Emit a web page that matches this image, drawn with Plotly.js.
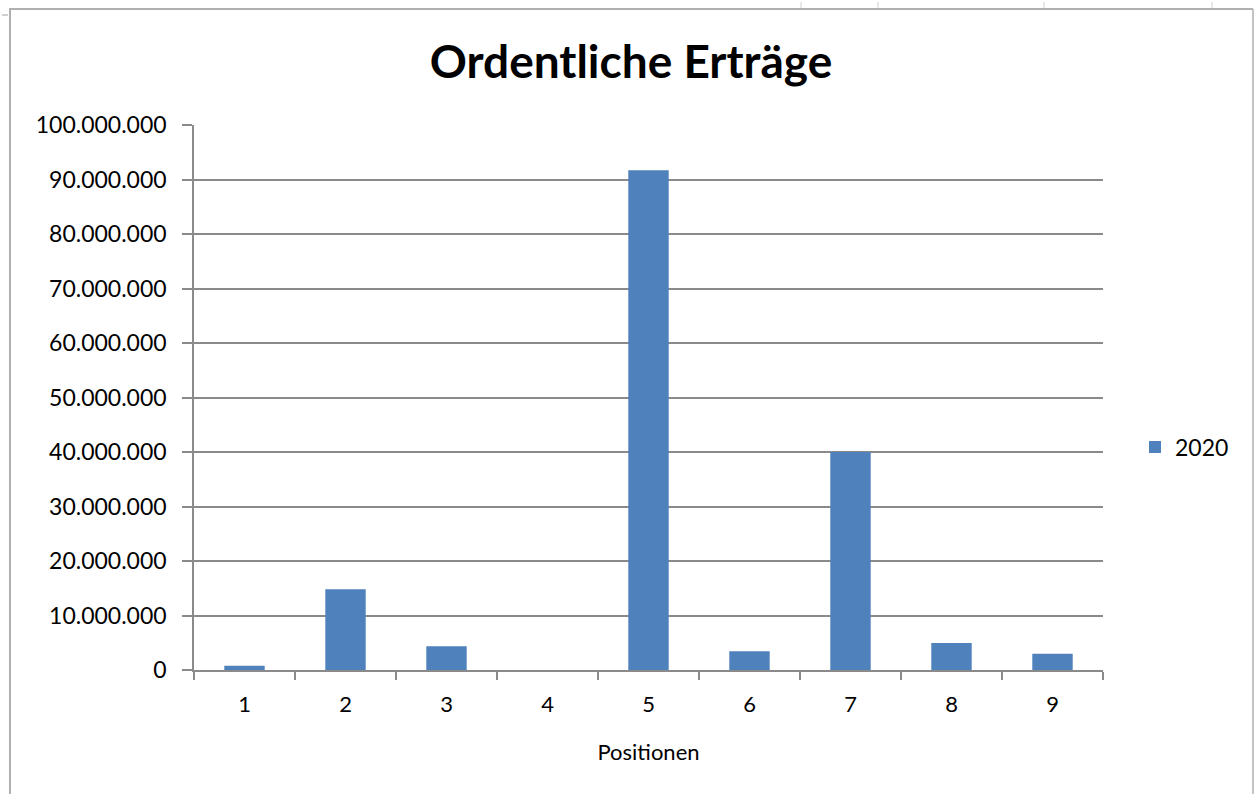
<!DOCTYPE html>
<html>
<head>
<meta charset="utf-8">
<script src="https://cdn.plot.ly/plotly-3.0.1.min.js"></script>
<style>
  html, body { margin: 0; padding: 0; background: #fff; }
  #chart { width: 1255px; height: 794px; }
</style>
</head>
<body>
<div id="chart"></div>
<script>
const positions = ["1", "2", "3", "4", "5", "6", "7", "8", "9"];
const values2020 = [800000, 14800000, 4350000, 0, 91700000, 3430000, 40000000, 4950000, 3000000];
const seriesName = "2020";
const yTicks = [0, 10000000, 20000000, 30000000, 40000000, 50000000, 60000000, 70000000, 80000000, 90000000, 100000000];

const W = 1255, H = 794;
const L = 194, R = 1103, T = 125, B = 670;
const pw = R - L, ph = B - T;
const px = x => (x - L) / pw;
const py = y => (B - y) / ph;

const fontFam = "Lato, 'Open Sans', sans-serif";
const grey = "#8a8a8a";

const trace = {
  type: "bar",
  x: positions,
  y: values2020,
  name: seriesName,
  marker: { color: "#4f81bd", line: { width: 0 } },
  hoverinfo: "x+y"
};

const shapes = [
  { type: "line", xref: "paper", yref: "paper", x0: px(9), x1: px(1253), y0: py(9), y1: py(9), line: { color: "#b0b0b0", width: 2 } },
  { type: "line", xref: "paper", yref: "paper", x0: px(10), x1: px(10), y0: py(9), y1: py(800), line: { color: "#b0b0b0", width: 2 } },
  { type: "line", xref: "paper", yref: "paper", x0: px(1253), x1: px(1253), y0: py(9), y1: py(800), line: { color: "#b0b0b0", width: 1.5 } }
];
[801, 878, 1044, 1212].forEach(x => shapes.push({ type: "line", xref: "paper", yref: "paper", x0: px(x), x1: px(x), y0: py(2), y1: py(8), line: { color: "#d0d0d0", width: 1 } }));
shapes.push({ type: "line", xref: "paper", yref: "paper", x0: px(2), x1: px(8), y0: py(15), y1: py(15), line: { color: "#d0d0d0", width: 2 } });

const layout = {
  width: W, height: H,
  margin: { l: L, r: W - R, t: T, b: H - B, pad: 0 },
  paper_bgcolor: "#fff", plot_bgcolor: "#fff",
  separators: ",.",
  font: { family: fontFam, color: "#000", size: 22 },
  title: {
    text: "<b>Ordentliche Erträge</b>",
    font: { family: fontFam, size: 46, color: "#000" },
    x: px(631), xanchor: "center", xref: "paper",
    y: 1 - 62 / H, yanchor: "middle"
  },
  bargap: 0.6,
  xaxis: {
    type: "category",
    showline: true, linecolor: grey, linewidth: 1.5,
    ticks: "outside", tickson: "boundaries", ticklen: 8, tickcolor: grey, tickwidth: 1.5,
    tickfont: { family: fontFam, size: 22, color: "#000" },
    ticklabelstandoff: 14,
    title: { text: "Positionen", font: { family: fontFam, size: 22, color: "#000" }, standoff: 28 },
    showgrid: false, zeroline: false,
    fixedrange: true
  },
  yaxis: {
    range: [0, 100000000],
    tickvals: yTicks,
    tickformat: ",d",
    showline: true, linecolor: grey, linewidth: 1.5,
    ticks: "outside", ticklen: 10, tickcolor: grey, tickwidth: 1.5,
    showgrid: true, gridcolor: grey, gridwidth: 1.5,
    zeroline: false,
    tickfont: { family: fontFam, size: 23, color: "#000" },
    ticklabelstandoff: 11,
    fixedrange: true
  },
  showlegend: true,
  legend: {
    x: px(1135), xanchor: "left", y: py(447), yanchor: "middle",
    font: { family: fontFam, size: 23, color: "#000" },
    bgcolor: "rgba(0,0,0,0)"
  },
  shapes: shapes
};

Plotly.newPlot("chart", [trace], layout, { displayModeBar: false });
</script>
</body>
</html>
